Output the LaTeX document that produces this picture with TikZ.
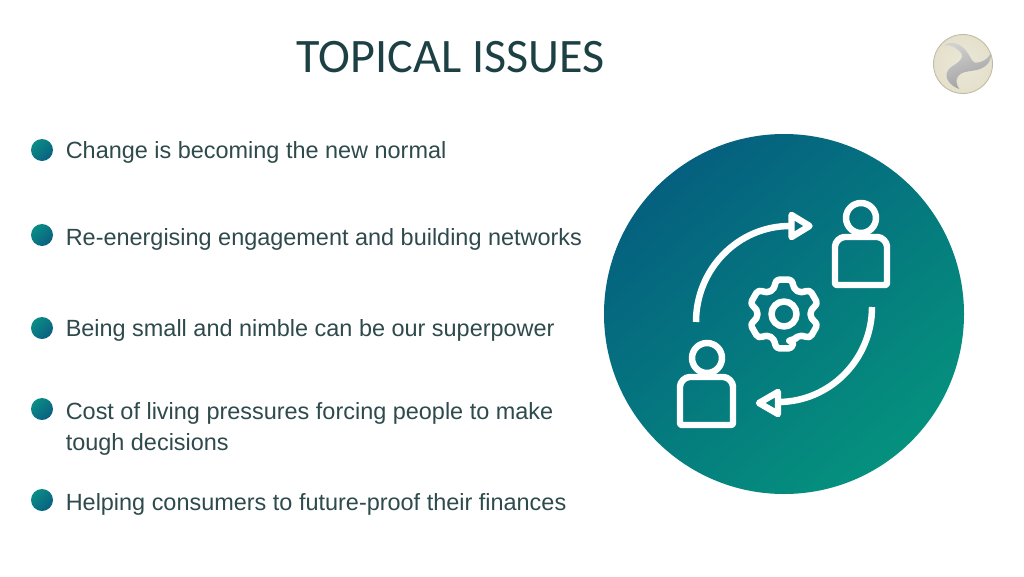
\documentclass[tikz,border=0pt]{standalone}
\usepackage{fontspec}
\setmainfont{Liberation Sans}
\newfontfamily\titlefont{Carlito}
\definecolor{inkdark}{HTML}{2E4A4C}
\definecolor{titleink}{HTML}{1D4044}
\definecolor{tealblue}{HTML}{05607F}
\definecolor{tealgreen}{HTML}{05917E}
\definecolor{dotlight}{HTML}{0A8D86}
\definecolor{dotdark}{HTML}{0A5F80}
\definecolor{logobase}{HTML}{E4E0CB}
\definecolor{logoedge}{HTML}{BDBAA5}
\tikzset{
  itemtext/.style={anchor=base west,inner sep=0pt,text=inkdark,font=\fontsize{16.68}{22}\selectfont,align=left},
  iconline/.style={draw=white,line width=4.6pt,line join=round},
}
\begin{document}
\begin{tikzpicture}[x=0.25mm,y=-0.25mm]
\useasboundingbox (0,0) rectangle (1024,576);
\fill[white] (0,0) rectangle (1024,576);

\node[anchor=base,inner sep=0pt,text=titleink,font=\titlefont\fontsize{34.2}{40}\selectfont] (title) at (450.5,72) {TOPICAL ISSUES};

% logo
\shade[inner color=logobase!75!white,outer color=logobase,draw=logoedge,line width=0.6pt] (963,64) circle (29.5);
\shade[left color=black!18,right color=black!38,shading angle=20]
  (944,45) .. controls (952,41) and (962,42) .. (970,56.7)
  .. controls (972,61) and (974,62) .. (975,62.7)
  .. controls (982,63) and (988,59) .. (990.7,53.3)
  .. controls (992,62) and (985,68) .. (976.7,70)
  .. controls (972,71) and (969,71) .. (966.7,71.7)
  .. controls (958,73) and (953,80) .. (959.3,89)
  .. controls (950,86) and (945,78) .. (946.7,73.3)
  .. controls (948,68) and (953,66) .. (956.7,63.3)
  .. controls (961,60) and (963,57) .. (961.7,54)
  .. controls (959,49) and (952,45) .. (944,45) -- cycle;

% bullets
\foreach \name/\ypos in {one/150,two/235,three/328,four/409,five/500}
  \shade[left color=dotlight,right color=dotdark,shading angle=45] (42,\ypos) circle (11);

\node[itemtext] (itemone) at (65.5,158.5) {Change is becoming the new normal};
\node[itemtext] (itemtwo) at (65.5,245.5) {Re-energising engagement and building networks};
\node[itemtext] (itemthree) at (65.5,336.5) {Being small and nimble can be our superpower};
\node[itemtext] (itemfour) at (65.5,450) {Cost of living pressures forcing people to make\\tough decisions};
\node[itemtext] (itemfive) at (65.5,510.5) {Helping consumers to future-proof their finances};

% big disc
\shade[left color=tealblue,right color=tealgreen,shading angle=40] (784,314) circle (180);

% arrows
\draw[iconline] (696,322) arc[start angle=180,end angle=270,x radius=94,y radius=96];
\draw[iconline] (791.5,215) -- (809.5,226) -- (791.5,237) -- cycle;
\draw[iconline] (872,307) arc[start angle=0,end angle=90,x radius=94,y radius=95];
\draw[iconline] (778,392) -- (759,403) -- (778,414) -- cycle;

% persons
\draw[iconline] (861,218) circle (15);
\draw[iconline,rounded corners=1pt] (835,285) -- (887,285) -- (887,248)
  arc[start angle=0,end angle=-90,radius=11] -- (846,237)
  arc[start angle=-90,end angle=-180,radius=11] -- cycle;
\draw[iconline] (707,358) circle (15);
\draw[iconline,rounded corners=1pt] (680,425) -- (733,425) -- (733,388)
  arc[start angle=0,end angle=-90,radius=11] -- (691,377)
  arc[start angle=-90,end angle=-180,radius=11] -- cycle;

% gear
\draw[iconline,rounded corners=3pt] (784,314)
  ++(72:27) \foreach \a in {90,150,210,270,330,30} {
    -- ([shift={(784,314)}]\a-20:27) -- ([shift={(784,314)}]\a-14:35.5)
    -- ([shift={(784,314)}]\a+14:35.5) -- ([shift={(784,314)}]\a+20:27)
  } -- cycle;
\draw[iconline] (784,314) circle (12.5);
\end{tikzpicture}
\end{document}
